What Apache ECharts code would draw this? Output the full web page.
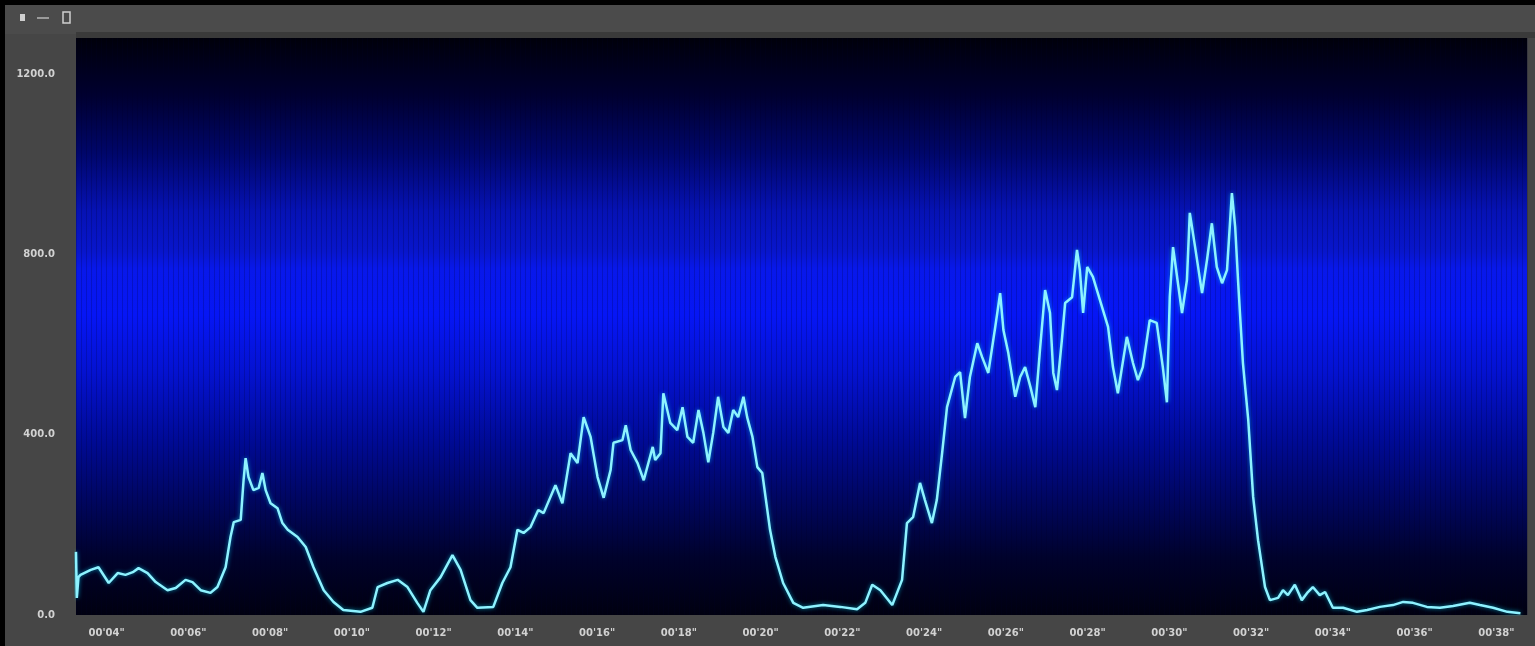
<!DOCTYPE html>
<html>
<head>
<meta charset="utf-8">
<script src="https://cdn.jsdelivr.net/npm/echarts@6/dist/echarts.min.js"></script>
<style>
  html, body { margin: 0; padding: 0; background: #000; }
  #chart { width: 1535px; height: 646px; }
</style>
</head>
<body>
<div id="chart"></div>
<script>
// seconds at each sample
var times = [
  3.25, 3.27, 3.31, 3.36, 3.61, 3.80, 4.05, 4.27, 4.46, 4.64, 4.78, 5.00, 5.20, 5.49, 5.69, 5.93, 6.10, 6.30, 6.54, 6.71,
  6.91, 7.03, 7.11, 7.28, 7.35, 7.40, 7.47, 7.59, 7.72, 7.81, 7.89, 8.01, 8.18, 8.30, 8.43, 8.67, 8.87, 9.06, 9.31, 9.55,
  9.79, 10.21, 10.50, 10.63, 10.87, 11.12, 11.36, 11.60, 11.75, 11.92, 12.17, 12.46, 12.66, 12.90, 13.07, 13.46, 13.68, 13.88, 14.05, 14.20,
  14.37, 14.56, 14.69, 14.98, 15.15, 15.35, 15.52, 15.67, 15.84, 16.01, 16.16, 16.33, 16.40, 16.62, 16.70, 16.82, 16.99, 17.14, 17.36, 17.42,
  17.55, 17.62, 17.79, 17.96, 18.09, 18.21, 18.35, 18.48, 18.60, 18.72, 18.84, 18.96, 19.09, 19.21, 19.33, 19.45, 19.58, 19.67, 19.80, 19.92,
  20.04, 20.23, 20.36, 20.55, 20.80, 21.04, 21.53, 21.95, 22.36, 22.56, 22.73, 22.93, 23.22, 23.46, 23.58, 23.73, 23.90, 24.02, 24.19, 24.31,
  24.44, 24.56, 24.76, 24.88, 25.00, 25.12, 25.30, 25.42, 25.57, 25.74, 25.86, 25.94, 26.06, 26.23, 26.35, 26.47, 26.60, 26.72, 26.84, 26.96,
  27.08, 27.16, 27.25, 27.37, 27.45, 27.62, 27.74, 27.81, 27.89, 27.99, 28.13, 28.30, 28.50, 28.62, 28.74, 28.96, 29.11, 29.23, 29.35, 29.52,
  29.69, 29.84, 29.94, 30.01, 30.09, 30.21, 30.31, 30.43, 30.50, 30.63, 30.80, 30.92, 31.04, 31.16, 31.29, 31.41, 31.53, 31.61, 31.68, 31.80,
  31.93, 32.05, 32.17, 32.34, 32.46, 32.66, 32.78, 32.90, 33.07, 33.24, 33.39, 33.51, 33.68, 33.81, 34.00, 34.25, 34.59, 34.84, 35.15, 35.47,
  35.72, 35.96, 36.30, 36.62, 36.94, 37.35, 37.60, 37.92, 38.27, 38.59
];

var levels = [
  140, 38, 84, 89, 100, 106, 71, 93, 89, 95, 104, 93, 73, 55, 60, 78, 73, 55, 49, 62,
  106, 173, 206, 211, 299, 348, 306, 277, 282, 315, 277, 248, 237, 204, 189, 173, 151, 106, 55, 29,
  11, 7, 16, 62, 71, 78, 62, 27, 7, 55, 84, 133, 100, 33, 16, 18, 71, 106, 189, 182,
  195, 233, 226, 288, 248, 359, 337, 439, 395, 306, 260, 322, 382, 388, 421, 366, 337, 299, 373, 344,
  359, 492, 426, 410, 461, 395, 382, 455, 404, 339, 404, 484, 417, 404, 455, 439, 484, 439, 395, 328,
  315, 189, 129, 71, 27, 16, 22, 18, 13, 27, 67, 55, 22, 78, 204, 217, 293, 255, 204, 255,
  359, 461, 528, 539, 437, 528, 603, 572, 537, 639, 714, 632, 581, 484, 528, 550, 506, 461, 594, 721,
  670, 537, 499, 610, 692, 705, 810, 765, 670, 772, 750, 699, 639, 550, 492, 617, 559, 521, 550, 654,
  648, 550, 472, 705, 816, 736, 670, 743, 892, 816, 714, 787, 869, 772, 736, 765, 936, 861, 743, 559,
  433, 262, 166, 62, 33, 38, 55, 44, 67, 33, 51, 62, 44, 51, 16, 16, 7, 11, 18, 22,
  29, 27, 18, 16, 20, 27, 22, 16, 7, 4
];

var xTickSeconds = [4, 6, 8, 10, 12, 14, 16, 18, 20, 22, 24, 26, 28, 30, 32, 34, 36, 38];
var yTicks = [0, 400, 800, 1200];

function pad(n) {
  return n < 10 ? '0' + n : '' + n;
}

var points = [];
for (var i = 0; i < times.length; i++) {
  points.push([times[i], levels[i]]);
}

var labelStyle = {
  color: '#d2d2d2',
  fontSize: 10,
  fontWeight: 'bold',
  fontFamily: 'DejaVu Sans'
};

var chart = echarts.init(document.getElementById('chart'));

chart.setOption({
  animation: false,
  backgroundColor: '#464646',
  graphic: [
    { type: 'rect', shape: { x: 0, y: 0, width: 1535, height: 5 }, style: { fill: '#000' }, silent: true },
    { type: 'rect', shape: { x: 0, y: 0, width: 5, height: 646 }, style: { fill: '#000' }, silent: true },
    { type: 'rect', shape: { x: 5, y: 5, width: 1530, height: 29 }, style: { fill: '#4b4b4b' }, silent: true },
    { type: 'rect', shape: { x: 76, y: 32, width: 1459, height: 6 }, style: { fill: '#3a3a3a' }, silent: true },
    { type: 'rect', shape: { x: 20, y: 14, width: 5, height: 7 }, style: { fill: '#cfcfcf' }, silent: true },
    { type: 'rect', shape: { x: 37, y: 17, width: 12, height: 2 }, style: { fill: '#9a9a9a' }, silent: true },
    { type: 'rect', shape: { x: 63, y: 12, width: 7, height: 11 }, style: { fill: 'none', stroke: '#cfcfcf', lineWidth: 1.5 }, silent: true }
  ],
  grid: {
    left: 76,
    right: 8,
    top: 38,
    bottom: 31,
    show: true,
    borderWidth: 0,
    backgroundColor: new echarts.graphic.LinearGradient(0, 0, 0, 1, [
      { offset: 0, color: '#00000a' },
      { offset: 0.1, color: '#000030' },
      { offset: 0.2, color: '#00066a' },
      { offset: 0.3, color: '#0612b4' },
      { offset: 0.37, color: '#0816cc' },
      { offset: 0.4, color: '#0818ea' },
      { offset: 0.48, color: '#0616f5' },
      { offset: 0.58, color: '#0412d0' },
      { offset: 0.7, color: '#000a94' },
      { offset: 0.8, color: '#000660' },
      { offset: 0.9, color: '#00022c' },
      { offset: 1, color: '#000010' }
    ])
  },
  xAxis: [
    {
      type: 'value',
      min: 3.25,
      max: 38.75,
      axisLine: { show: false },
      axisTick: { show: false },
      splitLine: { show: false },
      axisLabel: Object.assign({
        customValues: xTickSeconds,
        margin: 13,
        formatter: function (v) {
          return "00'" + pad(Math.round(v)) + '"';
        }
      }, labelStyle)
    },
    {
      type: 'value',
      position: 'bottom',
      min: 3.25,
      max: 38.75,
      interval: 0.125,
      axisLine: { show: false },
      axisTick: { show: false },
      axisLabel: { show: false },
      splitLine: { show: true, lineStyle: { color: 'rgba(0,0,40,0.2)', width: 1 } }
    }
  ],
  yAxis: {
    type: 'value',
    min: 0,
    max: 1280,
    interval: 400,
    axisLine: { show: false },
    axisTick: { show: false },
    splitLine: { show: false },
    axisLabel: Object.assign({
      margin: 21,
      customValues: yTicks,
      formatter: function (v) {
        return v.toFixed(1);
      }
    }, labelStyle)
  },
  series: [
    {
      type: 'line',
      xAxisIndex: 0,
      data: points,
      showSymbol: false,
      lineStyle: {
        color: '#8ef2ff',
        width: 2.5,
        shadowBlur: 4,
        shadowColor: 'rgba(0,220,255,0.6)'
      }
    }
  ]
});
</script>
</body>
</html>
